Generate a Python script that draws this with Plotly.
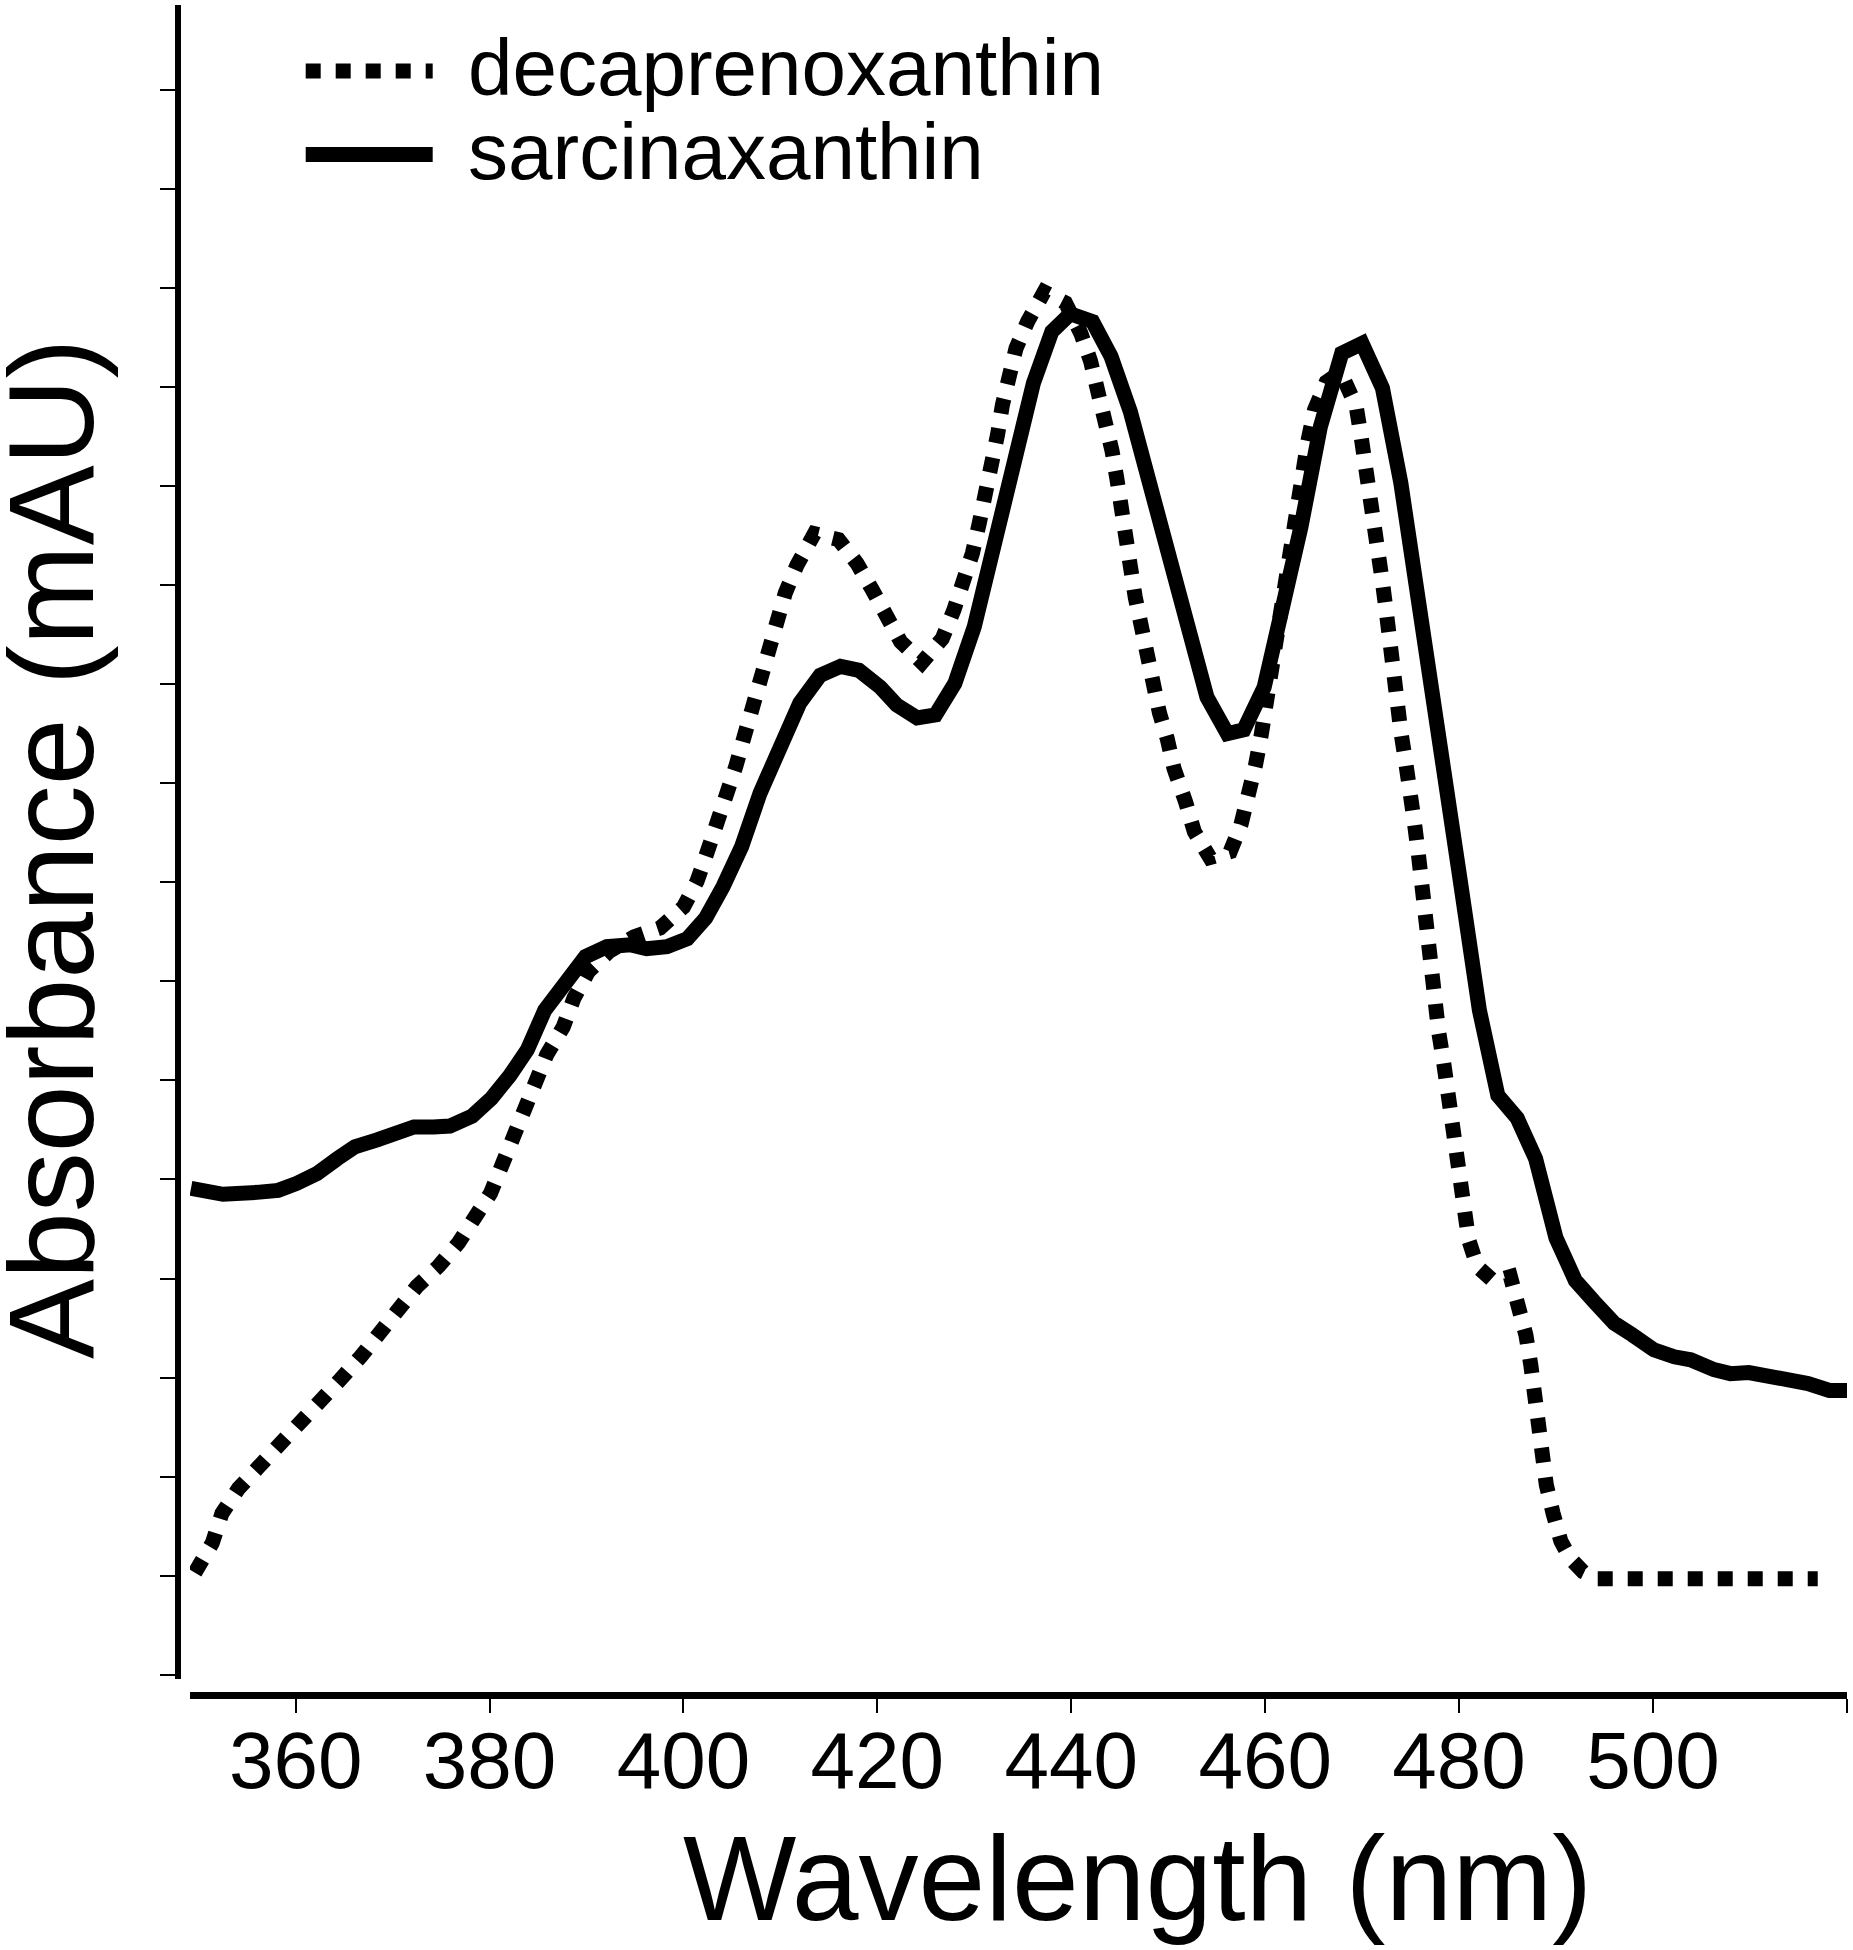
import plotly.graph_objects as go

# ---------------- data ----------------
# y values are in units of the (unlabelled) y-axis tick interval
sarcina_nm = [349.2, 350.5, 352.5, 356.0, 358.2, 360.1, 362.2, 364.3, 366.1, 368.4,
              370.4, 372.2, 374.2, 375.9, 378.2, 380.2, 382.1, 383.9, 385.7, 388.0,
              389.9, 392.1, 394.5, 396.2, 398.3, 400.4, 402.3, 404.1, 406.0, 407.9,
              410.0, 412.0, 414.1, 416.2, 418.1, 420.3, 422.0, 424.1, 426.0, 428.0,
              430.0, 432.0, 434.1, 436.1, 438.0, 439.9, 442.2, 444.1, 446.1, 448.0,
              449.9, 452.0, 454.0, 456.1, 457.8, 459.9, 461.6, 463.7, 465.7, 467.9,
              470.0, 472.1, 474.0, 476.0, 478.0, 480.0, 482.1, 484.0, 486.0, 487.9,
              490.0, 492.0, 493.9, 496.0, 497.9, 500.1, 502.2, 503.9, 506.3, 508.0,
              509.9, 512.0, 513.9, 516.0, 518.2, 520.2]
sarcina_abs = [4.91, 4.88, 4.85, 4.87, 4.89, 4.96, 5.06, 5.21, 5.33, 5.40,
               5.47, 5.53, 5.53, 5.54, 5.64, 5.82, 6.05, 6.31, 6.71, 7.01,
               7.25, 7.35, 7.37, 7.33, 7.35, 7.43, 7.64, 7.96, 8.36, 8.90,
               9.39, 9.81, 10.09, 10.18, 10.14, 9.97, 9.79, 9.66, 9.69, 10.01,
               10.58, 11.35, 12.26, 13.04, 13.56, 13.74, 13.66, 13.31, 12.75, 12.06,
               11.32, 10.51, 9.87, 9.50, 9.54, 9.97, 10.65, 11.59, 12.60, 13.34,
               13.44, 12.99, 12.03, 10.79, 9.45, 8.10, 6.71, 5.85, 5.62, 5.21,
               4.41, 3.98, 3.77, 3.55, 3.43, 3.28, 3.21, 3.18, 3.08, 3.04,
               3.05, 3.01, 3.00, 2.94, 2.87, 2.87]

decapreno_nm = [349.6, 351.4, 352.4, 354.1, 356.2, 358.4, 360.5, 362.5, 364.6, 366.7,
                368.5, 370.4, 372.5, 374.7, 376.8, 378.5, 380.1, 381.3, 382.5, 383.7,
                384.7, 385.9, 387.6, 388.7, 390.2, 392.3, 394.9, 397.6, 400.0, 401.4,
                402.4, 403.6, 404.5, 405.4, 406.2, 407.1, 407.9, 408.6, 409.5, 410.5,
                411.7, 413.5, 416.0, 417.9, 419.5, 420.8, 422.4, 424.6, 426.7, 427.9,
                428.9, 429.8, 430.5, 431.2, 431.8, 432.4, 432.9, 433.6, 434.3, 435.5,
                437.2, 439.4, 441.0, 442.0, 442.8, 443.5, 444.2, 444.7, 445.3, 445.8,
                446.1, 446.6, 447.2, 447.8, 448.4, 449.1, 449.9, 450.6, 451.8, 452.7,
                454.3, 456.4, 457.5, 458.4, 459.0, 459.6, 460.1, 460.6, 461.1, 461.4,
                462.0, 462.5, 462.8, 463.4, 463.9, 464.4, 465.1, 466.3, 467.8, 469.4,
                469.9, 470.4, 470.9, 471.4, 471.8, 472.1, 472.5, 472.8, 473.2, 473.5,
                474.0, 474.5, 475.1, 475.4, 475.8, 476.1, 476.5, 476.8, 477.2, 477.5,
                477.9, 478.4, 478.8, 479.1, 479.6, 480.0, 480.5, 481.0, 481.9, 483.6,
                485.3, 486.2, 486.9, 487.4, 487.8, 488.1, 488.5, 489.0, 489.7, 490.5,
                491.5, 492.8, 494.3, 496.0, 500.0, 505.0, 510.0, 515.0, 517.0]
decapreno_abs = [1.03, 1.33, 1.63, 1.88, 2.10, 2.32, 2.54, 2.76, 2.98, 3.21,
                 3.45, 3.70, 3.92, 4.12, 4.36, 4.62, 4.86, 5.15, 5.43, 5.70,
                 5.99, 6.26, 6.54, 6.83, 7.10, 7.30, 7.45, 7.54, 7.75, 8.01,
                 8.29, 8.60, 8.88, 9.17, 9.45, 9.74, 10.04, 10.34, 10.63, 10.92,
                 11.20, 11.52, 11.46, 11.22, 10.95, 10.68, 10.43, 10.22, 10.46, 10.75,
                 11.02, 11.32, 11.62, 11.92, 12.21, 12.52, 12.82, 13.10, 13.39, 13.66,
                 13.96, 13.85, 13.54, 13.26, 12.97, 12.67, 12.36, 12.08, 11.78, 11.49,
                 11.19, 10.88, 10.58, 10.28, 9.99, 9.71, 9.45, 9.15, 8.81, 8.51,
                 8.25, 8.31, 8.58, 8.90, 9.18, 9.49, 9.81, 10.11, 10.41, 10.72,
                 10.98, 11.29, 11.59, 11.86, 12.15, 12.45, 12.77, 13.05, 13.15, 12.80,
                 12.50, 12.21, 11.93, 11.62, 11.32, 11.03, 10.73, 10.43, 10.13, 9.82,
                 9.52, 9.21, 8.90, 8.60, 8.29, 7.99, 7.69, 7.40, 7.10, 6.79,
                 6.49, 6.19, 5.89, 5.58, 5.28, 4.98, 4.68, 4.39, 4.12, 3.97,
                 4.02, 3.73, 3.43, 3.13, 2.82, 2.52, 2.22, 1.92, 1.63, 1.35,
                 1.17, 1.04, 0.97, 0.97, 0.97, 0.97, 0.97, 0.97, 0.97]

x_tick_vals = [360, 380, 400, 420, 440, 460, 480, 500, 520]
x_tick_text = ["360", "380", "400", "420", "440", "460", "480", "500", ""]
y_tick_vals = list(range(0, 17))

series_names = ["decaprenoxanthin", "sarcinaxanthin"]
x_title = "Wavelength (nm)"
y_title = "Absorbance (mAU)"

# ---------------- layout geometry (pixels) ----------------
FIG_W, FIG_H = 1853, 1950
ML, MR, MT, MB = 178, 6, 5, 255
PW = FIG_W - ML - MR
PH = FIG_H - MT - MB


def px(x):
    return (x - ML) / PW


def py(y):
    return (FIG_H - MB - y) / PH


FONT = "Liberation Sans, Arial, Helvetica, sans-serif"

fig = go.Figure()
fig.add_trace(go.Scatter(x=decapreno_nm, y=decapreno_abs, mode="lines",
                         name=series_names[0], showlegend=False,
                         line=dict(color="black", width=15, dash="dot")))
fig.add_trace(go.Scatter(x=sarcina_nm, y=sarcina_abs, mode="lines",
                         name=series_names[1], showlegend=False,
                         line=dict(color="black", width=15)))

fig.update_layout(
    width=FIG_W, height=FIG_H,
    margin=dict(l=ML, r=MR, t=MT, b=MB, autoexpand=False),
    paper_bgcolor="white", plot_bgcolor="white",
    font=dict(family=FONT, color="black"),
    xaxis=dict(domain=[px(190), 1], anchor="free", position=0,
               range=[349.1, 520.02], showline=True, linewidth=7, linecolor="black",
               ticks="outside", ticklen=14, tickwidth=2, tickcolor="black",
               tickvals=x_tick_vals, ticktext=x_tick_text, ticklabelstandoff=-21,
               tickfont=dict(size=80, family=FONT, color="black"),
               showgrid=False, zeroline=False),
    yaxis=dict(domain=[py(1679), 1], anchor="free", position=0,
               range=[-0.043, 16.857], showline=True, linewidth=6, linecolor="black",
               ticks="outside", ticklen=15, tickwidth=2, tickcolor="black",
               tickvals=y_tick_vals, showticklabels=False,
               showgrid=False, zeroline=False),
)

# axis titles
fig.add_annotation(text=x_title, xref="paper", yref="paper", x=px(1137), y=py(1878),
                   xanchor="center", yanchor="middle", showarrow=False,
                   font=dict(size=120, family=FONT, color="black"))
fig.add_annotation(text=y_title, xref="paper", yref="paper", x=px(51), y=py(849),
                   xanchor="center", yanchor="middle", showarrow=False, textangle=-90,
                   font=dict(size=120, family=FONT, color="black"))

# legend (drawn manually to match the reference's compact layout)
leg_x0, leg_x1 = 305.7, 432.7
fig.add_shape(type="line", xref="paper", yref="paper", x0=px(leg_x0), x1=px(leg_x1),
              y0=py(71), y1=py(71), line=dict(color="black", width=15, dash="dot"))
fig.add_shape(type="line", xref="paper", yref="paper", x0=px(leg_x0), x1=px(leg_x1),
              y0=py(154.5), y1=py(154.5), line=dict(color="black", width=15))
fig.add_annotation(text=series_names[0], xref="paper", yref="paper", x=px(466), y=py(67),
                   xanchor="left", yanchor="middle", showarrow=False,
                   font=dict(size=80, family=FONT, color="black"))
fig.add_annotation(text=series_names[1], xref="paper", yref="paper", x=px(466), y=py(152),
                   xanchor="left", yanchor="middle", showarrow=False,
                   font=dict(size=80, family=FONT, color="black"))

# remove the page's default 8px body margin so the figure sits at the window origin
fig.write_html("out.html", config={"displayModeBar": False},
               post_script="document.body.style.margin='0px';")
